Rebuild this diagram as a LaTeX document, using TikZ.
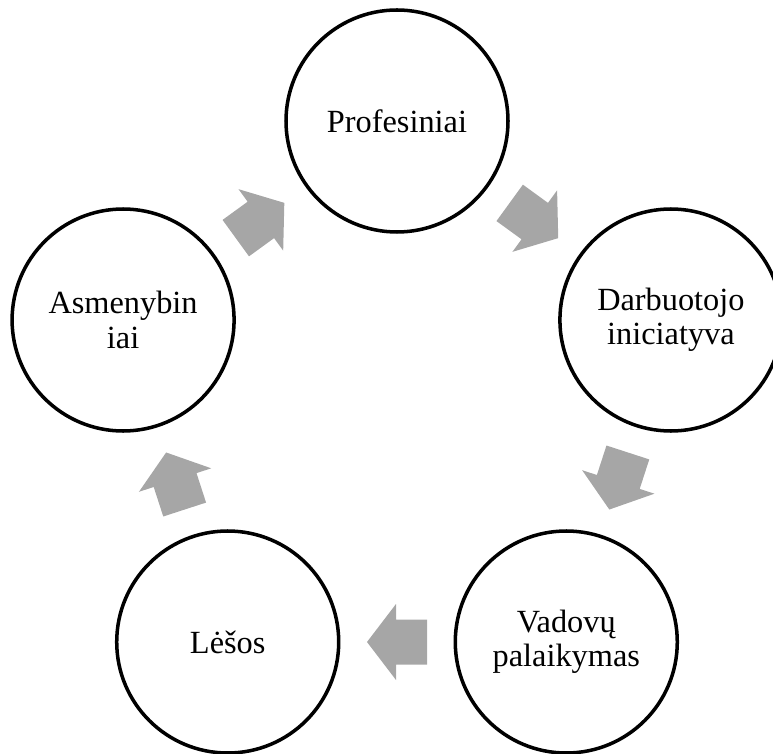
\documentclass[tikz,border=0pt]{standalone}
\usepackage{fontspec}
\setmainfont{Liberation Serif}
\usetikzlibrary{calc}

\begin{document}
\begin{tikzpicture}[
  stage/.style={circle, draw=black, line width=2.5pt, fill=white,
    minimum size=5.55cm, inner sep=0pt, align=center,
    font=\fontsize{23}{24.5}\selectfont},
  cyclearrow/.pic={
    \fill[arrowgray] (-0.75,-0.5625) -- (0.025,-0.5625) -- (0.025,-0.95)
      -- (0.75,0) -- (0.025,0.95) -- (0.025,0.5625) -- (-0.75,0.5625) -- cycle;
  }
]
\definecolor{arrowgray}{HTML}{A6A6A6}
\useasboundingbox (-9.925,-8.6) rectangle (9.4,10.225);

\node[stage] (prof) at (90:7.2)
  {Profesiniai};
\node[stage] (darb) at (18:7.2)
  {Darbuotojo\\iniciatyva};
\node[stage] (vad) at (-54:7.2)
  {Vadovų\\palaikymas};
\node[stage] (les) at (-126:7.2)
  {Lėšos};
\node[stage] (asm) at (162:7.2)
  {Asmenybin\\iai};

\pic[rotate=-36] at ($(prof)!0.5!(darb)$) {cyclearrow};
\pic[rotate=-108] at ($(darb)!0.5!(vad)$) {cyclearrow};
\pic[rotate=180] at ($(vad)!0.5!(les)$) {cyclearrow};
\pic[rotate=108] at ($(les)!0.5!(asm)$) {cyclearrow};
\pic[rotate=36] at ($(asm)!0.5!(prof)$) {cyclearrow};

\end{tikzpicture}
\end{document}
